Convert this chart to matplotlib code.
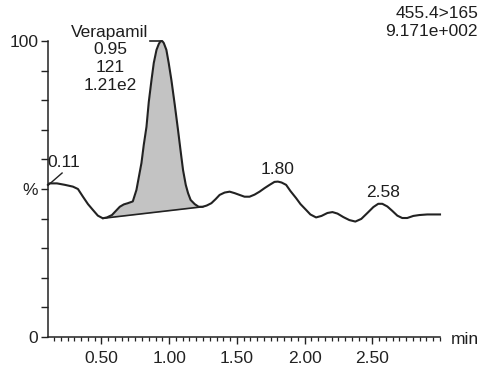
import numpy as np
import matplotlib.pyplot as plt
from matplotlib.ticker import MultipleLocator, FixedLocator

plt.rcParams['font.family'] = ['Liberation Sans', 'DejaVu Sans']

# MRM trace 455.4>165, retention time (min) vs relative intensity (%)
time_min = [0.106, 0.116, 0.172, 0.231, 0.290, 0.327, 0.364, 0.401, 0.438, 0.474,
            0.511, 0.541, 0.578, 0.607, 0.636, 0.666, 0.695, 0.732, 0.759, 0.796,
            0.813, 0.833, 0.850, 0.870, 0.887, 0.907, 0.924, 0.935, 0.944, 0.953,
            0.961, 0.980, 0.997, 1.017, 1.042, 1.066, 1.086, 1.103, 1.123, 1.140,
            1.159, 1.189, 1.218, 1.248, 1.277, 1.312, 1.344, 1.373, 1.410, 1.447,
            1.484, 1.520, 1.557, 1.594, 1.631, 1.668, 1.705, 1.742, 1.778, 1.803,
            1.830, 1.864, 1.896, 1.938, 1.970, 2.012, 2.043, 2.085, 2.125, 2.169,
            2.206, 2.243, 2.287, 2.331, 2.375, 2.419, 2.464, 2.508, 2.544, 2.574,
            2.611, 2.648, 2.685, 2.721, 2.758, 2.803, 2.847, 2.906, 2.965, 3.000]
intensity = [51.4, 51.9, 51.9, 51.4, 50.8, 50.0, 47.4, 44.9, 42.9, 41.0,
             40.1, 40.4, 41.2, 42.6, 44.0, 44.8, 45.2, 45.8, 49.7, 58.8,
             64.9, 71.0, 79.4, 86.8, 92.6, 97.0, 99.0, 99.8, 100.0, 99.8,
             99.3, 97.0, 92.6, 86.8, 78.4, 69.9, 62.5, 56.4, 51.4, 48.6,
             46.3, 44.9, 44.0, 44.0, 44.4, 45.2, 46.6, 48.0, 48.8, 49.1,
             48.6, 48.0, 47.4, 47.4, 48.1, 49.1, 50.3, 51.4, 52.4, 52.5,
             52.2, 51.4, 49.3, 46.9, 44.9, 42.9, 41.4, 40.4, 40.9, 41.9,
             42.2, 41.7, 40.5, 39.5, 39.0, 39.9, 41.9, 43.9, 45.0, 45.0,
             44.1, 42.6, 41.0, 40.2, 40.2, 40.9, 41.2, 41.4, 41.4, 41.4]

# integrated peak: start/end of the baseline
peak_start = 0.511
peak_end = 1.248
peak_rt = 0.95
peak_lines = ['Verapamil', '0.95', '121', '1.21e2']

# other labelled maxima
label_rt = [1.80, 2.58]
label_val = [52.5, 45.0]
first_rt = 0.11

t = np.array(time_min)
y = np.array(intensity)

fig = plt.figure(figsize=(4.82, 3.66), dpi=100)
ax = fig.add_axes([48 / 482, 29 / 366, 392 / 482, 296 / 366])

# shaded peak area above the straight baseline
m = (t >= peak_start) & (t <= peak_end)
y0 = np.interp(peak_start, t, y)
y1 = np.interp(peak_end, t, y)
base = np.interp(t[m], [peak_start, peak_end], [y0, y1])
ax.fill_between(t[m], base, y[m], color='#c3c3c3', lw=0)
ax.plot([peak_start, peak_end], [y0, y1], color='#222222', lw=1.2)

ax.plot(t, y, color='#222222', lw=1.5, clip_on=False)

txt = '#1e1e1e'
fs = 12.5
ax.text(0.563, 94.0, '\n'.join(peak_lines), ha='center', va='center',
        fontsize=fs, linespacing=1.22, color=txt)
ax.plot([0.86, peak_rt - 0.005], [100, 100], color='#222222', lw=1.2, clip_on=False)

for rt, v in zip(label_rt, label_val):
    ax.annotate(f'{rt:.2f}', (rt, v), xytext=(0, 3), textcoords='offset points',
                ha='center', va='bottom', fontsize=fs, color=txt)

ax.plot([first_rt, 0.21], [51.4, 55.4], color='#222222', lw=1.0, clip_on=False)
ax.text(0.099, 58.8, f'{first_rt:.2f}', ha='left', va='center', fontsize=fs,
        color=txt, clip_on=False)

ax.set_xlim(0.106, 3.0)
ax.set_ylim(0, 100)
for s in ['top', 'right']:
    ax.spines[s].set_visible(False)
for s in ['left', 'bottom']:
    ax.spines[s].set_linewidth(1.1)
    ax.spines[s].set_color('#222222')

ax.xaxis.set_major_locator(FixedLocator([0.5, 1.0, 1.5, 2.0, 2.5]))
ax.set_xticklabels(['0.50', '1.00', '1.50', '2.00', '2.50'])
ax.xaxis.set_minor_locator(MultipleLocator(0.05))
ax.tick_params(axis='x', which='major', length=5, width=1.0, pad=5,
               labelsize=fs, colors='#222222')
ax.tick_params(axis='x', which='minor', length=3, width=0.9, colors='#222222')

ax.set_yticks(np.arange(0, 101, 10))
ax.set_yticklabels(['0', '', '', '', '', '%', '', '', '', '', '100'])
ax.tick_params(axis='y', length=5, width=1.0, pad=2, labelsize=fs, colors='#222222')

fig.text(478 / 482, 1 - 13 / 366, '455.4>165', ha='right', va='center', fontsize=fs, color=txt)
fig.text(478 / 482, 1 - 31 / 366, '9.171e+002', ha='right', va='center', fontsize=fs, color=txt)
fig.text(451 / 482, 1 - 339 / 366, 'min', ha='left', va='center', fontsize=fs, color=txt)

fig.savefig('out.png', dpi=100)
